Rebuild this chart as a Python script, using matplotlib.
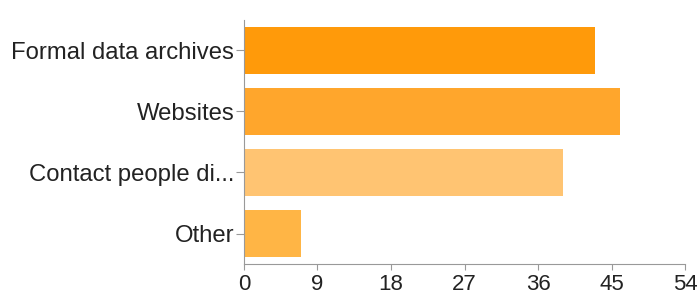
import matplotlib.pyplot as plt

categories = ['Formal data archives', 'Websites', 'Contact people di...', 'Other']
counts = [43, 46, 39, 7]
bar_colors = ['#ff9a0a', '#ffa62c', '#ffc472', '#ffb545']
x_ticks = [0, 9, 18, 27, 36, 45, 54]

plt.rcParams['font.family'] = ['Liberation Sans', 'DejaVu Sans']

fig = plt.figure(figsize=(6.97, 2.97), dpi=100)
ax = fig.add_axes([0.350, 0.111, 0.633, 0.822])

y = list(range(len(categories)))
ax.barh(y, counts, height=0.76, color=bar_colors)
ax.set_yticks(y)
ax.set_yticklabels(categories, fontsize=17.2, color='#222222')
ax.set_ylim(3.5, -0.5)
ax.set_xlim(0, 54)
ax.set_xticks(x_ticks)
ax.tick_params(axis='x', labelsize=16, length=4, pad=3, color='#999999', labelcolor='#222222')
ax.tick_params(axis='y', length=6, pad=1, color='#999999')

for side in ['top', 'right']:
    ax.spines[side].set_visible(False)
for side in ['left', 'bottom']:
    ax.spines[side].set_color('#999999')

fig.savefig('out.png', dpi=100)
